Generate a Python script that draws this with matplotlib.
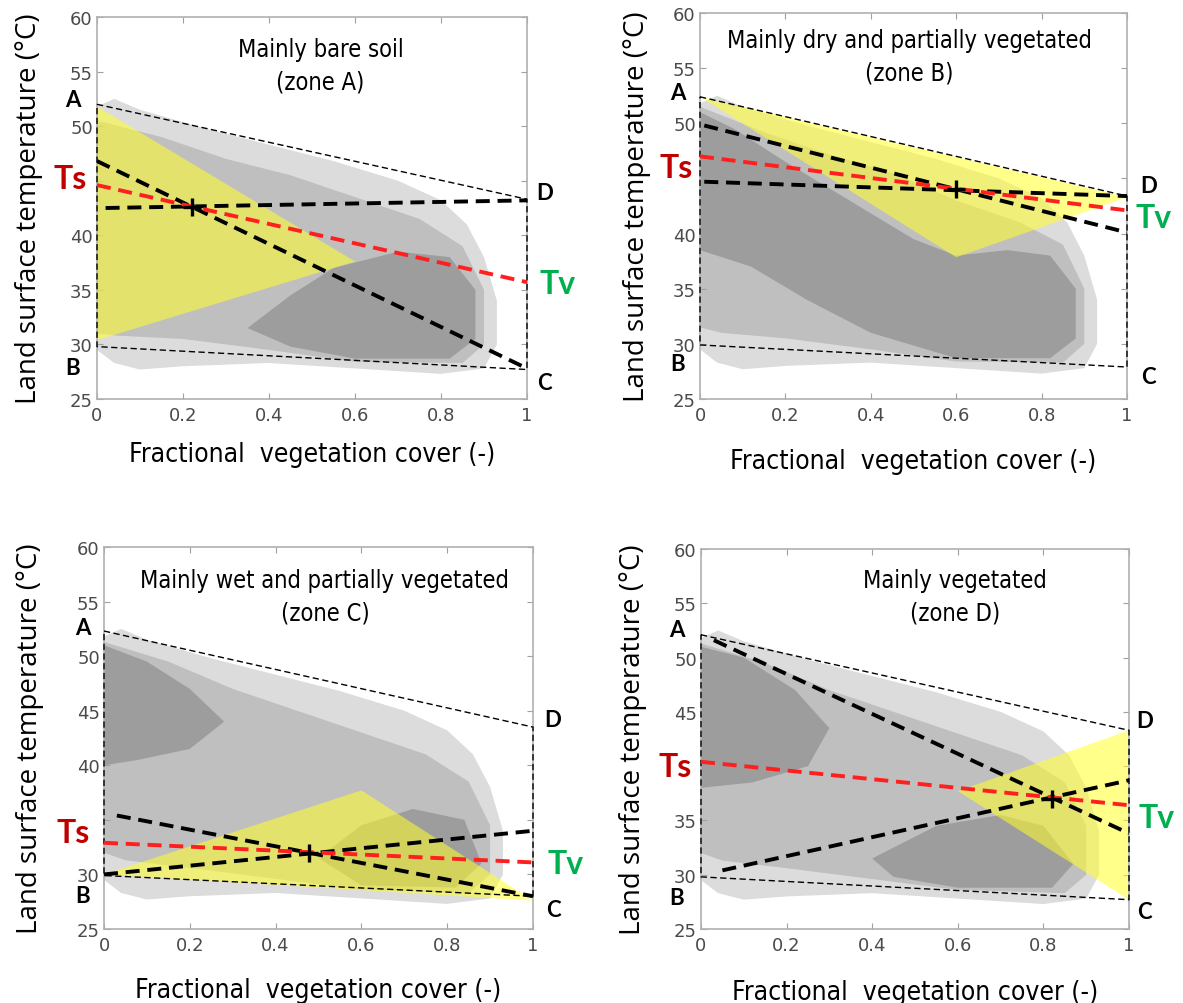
# Ts-Fv triangle / trapezoid zones (A-D)
import matplotlib.pyplot as plt
from matplotlib.patches import Polygon

# trapezoid corners (Fv, LST) per panel: A, D, C, B
trap = [
    [(0, 52.0), (1, 43.3), (1, 27.7), (0, 29.8)],
    [(0, 52.4), (1, 43.4), (1, 27.9), (0, 29.9)],
    [(0, 52.3), (1, 43.5), (1, 28.0), (0, 29.9)],
    [(0, 52.1), (1, 43.3), (1, 27.7), (0, 29.8)],
]
# yellow zone triangles
zone_tri = [
    [(0, 51.8), (0.6, 37.6), (0, 30.4)],
    [(0, 52.4), (0.6, 37.85), (1, 43.3)],
    [(0, 30.0), (0.6, 37.7), (1, 27.6)],
    [(1, 43.3), (0.6, 37.7), (1, 27.7)],
]
# black dashed lines: ((x0, y0), (x1, y1))
dash1 = [
    [(0.0, 46.8), (1, 27.8)],
    [(0.01, 49.8), (1, 40.1)],
    [(0.03, 35.4), (1, 28.0)],
    [(0.03, 51.6), (1, 33.8)],
]
dash2 = [
    [(0.02, 42.5), (1, 43.2)],
    [(0.01, 44.7), (1, 43.4)],
    [(0.0, 30.0), (1, 34.0)],
    [(0.05, 30.4), (1, 38.7)],
]
# red dashed line Ts -> Tv
red_line = [
    [(0, 44.6), (1, 35.7)],
    [(0, 47.0), (1, 42.1)],
    [(0, 32.9), (1, 31.1)],
    [(0, 40.4), (1, 36.4)],
]
cross = [(0.22, 42.6), (0.6, 44.0), (0.477, 32.0), (0.82, 37.0)]

# label positions (x in Fv units, y in degC)
ts_pos = [(-0.063, 45.2), (-0.056, 46.0), (-0.073, 33.85), (-0.06, 40.0)]
tv_pos = [(1.07, 35.6), (1.062, 41.5), (1.076, 31.0), (1.065, 35.3)]
a_pos = [(-0.056, 52.4), (-0.052, 52.75), (-0.05, 52.6), (-0.056, 52.6)]
b_pos = [(-0.056, 27.9), (-0.052, 28.2), (-0.05, 28.05), (-0.056, 27.9)]
d_pos = [(1.04, 43.9), (1.05, 44.35), (1.047, 44.2), (1.037, 44.2)]
c_pos = [(1.04, 26.5), (1.05, 27.0), (1.047, 26.8), (1.037, 26.6)]

titles = ['Mainly bare soil\n(zone A)',
          'Mainly dry and partially vegetated\n(zone B)',
          'Mainly wet and partially vegetated\n(zone C)',
          'Mainly vegetated\n(zone D)']
title_x = [0.52, 0.49, 0.515, 0.593]
title_y = [55.55, 56.1, 55.5, 55.65]

y_ticks = [25, 30, 35, 40, 45, 50, 55, 60]
x_ticks = [0, 0.2, 0.4, 0.6, 0.8, 1]
x_ticklabels = ['0', '0.2', '0.4', '0.6', '0.8', '1']
hidden_ytick = [45, 45, 35, 40]   # tick label covered by the "Ts" tag

# gray point cloud read as envelopes (sparse outer, medium, dense cores)
cloud_outer = [(0.0, 51.8), (0.04, 52.5), (0.1, 51.5), (0.25, 49.8), (0.4, 48.3),
               (0.55, 46.8), (0.7, 45.0), (0.8, 43.2), (0.86, 41.0), (0.9, 38.0),
               (0.93, 34.0), (0.93, 30.0), (0.9, 27.8), (0.8, 27.3), (0.6, 27.8),
               (0.4, 28.3), (0.2, 28.0), (0.1, 27.7), (0.04, 28.3), (0.0, 29.5)]
cloud_mid = [
    [(0.0, 50.5), (0.15, 49.0), (0.3, 47.0), (0.45, 45.5), (0.6, 43.5), (0.75, 41.5),
     (0.85, 39.0), (0.9, 35.0), (0.9, 30.0), (0.85, 28.3), (0.6, 28.4), (0.4, 29.5),
     (0.2, 30.5), (0.05, 30.8), (0.0, 31.0)],
    [(0.0, 51.5), (0.15, 49.2), (0.3, 47.2), (0.45, 45.5), (0.6, 43.0), (0.75, 41.0),
     (0.85, 39.0), (0.9, 35.0), (0.9, 30.0), (0.85, 28.3), (0.6, 28.4), (0.4, 29.5),
     (0.2, 30.5), (0.05, 31.0), (0.0, 31.5)],
    [(0.0, 51.3), (0.15, 49.5), (0.3, 47.0), (0.45, 45.0), (0.6, 43.0), (0.75, 41.0),
     (0.85, 38.5), (0.9, 34.5), (0.9, 30.0), (0.85, 28.3), (0.6, 28.6), (0.4, 29.6),
     (0.2, 30.6), (0.05, 31.3), (0.0, 32.0)],
    [(0.0, 51.3), (0.15, 49.5), (0.3, 47.0), (0.45, 45.0), (0.6, 43.0), (0.75, 41.0),
     (0.85, 38.5), (0.9, 34.5), (0.9, 30.0), (0.85, 28.3), (0.6, 28.6), (0.4, 29.6),
     (0.2, 30.6), (0.05, 31.3), (0.0, 32.0)],
]
cloud_core = [
    [(0.35, 31.5), (0.45, 34.5), (0.55, 37.0), (0.7, 38.5), (0.82, 38.0), (0.88, 35.0),
     (0.88, 30.5), (0.82, 28.7), (0.6, 28.7), (0.45, 29.8)],
    [(0.0, 51.0), (0.08, 49.5), (0.2, 46.5), (0.35, 43.0), (0.5, 39.5), (0.6, 38.0),
     (0.72, 38.5), (0.82, 38.0), (0.88, 35.0), (0.88, 30.5), (0.82, 28.7), (0.6, 28.7),
     (0.4, 31.0), (0.25, 34.0), (0.12, 37.0), (0.0, 38.5)],
    [(0.0, 51.0), (0.1, 49.5), (0.2, 47.0), (0.28, 44.0), (0.2, 41.5), (0.08, 40.5),
     (0.0, 40.0)],
    [(0.0, 51.0), (0.1, 50.0), (0.22, 47.0), (0.3, 43.5), (0.25, 40.0), (0.12, 38.5),
     (0.0, 38.0)],
]
cloud_core2 = [
    None,
    None,
    [(0.5, 31.5), (0.6, 34.5), (0.72, 36.0), (0.84, 35.0), (0.88, 31.0), (0.82, 28.8),
     (0.6, 29.0)],
    [(0.4, 31.5), (0.55, 34.5), (0.7, 35.5), (0.8, 34.5), (0.87, 31.0), (0.82, 28.8),
     (0.6, 28.8), (0.45, 29.8)],
]

# axes placement in pixels (left, right, top, bottom) of a 1183x1004 figure
W, H = 1183, 1004
boxes = [(97, 527, 18, 400), (700, 1127, 14, 400),
         (104, 533, 548, 930), (701, 1129, 550, 930)]
xlab_pad = [12.5, 17, 16.5, 18]
ylab_pad = [19, 16, 24, 19]

narrow = dict(family='DejaVu Sans', fontstretch='condensed')
bold = dict(fontweight='bold', family=['Lato', 'DejaVu Sans'], clip_on=False,
            ha='center', va='center')

fig = plt.figure(figsize=(W / 100, H / 100), dpi=100)

for i in range(4):
    l, r, t, b = boxes[i]
    ax = fig.add_axes([l / W, 1 - b / H, (r - l) / W, (b - t) / H])
    ax.set_xlim(0, 1)
    ax.set_ylim(25, 60)

    # point cloud
    ax.add_patch(Polygon(cloud_outer, closed=True, fc='#dcdcdc', ec='none', zorder=1))
    ax.add_patch(Polygon(cloud_mid[i], closed=True, fc='#bfbfbf', ec='none', zorder=1))
    ax.add_patch(Polygon(cloud_core[i], closed=True, fc='#9d9d9d', ec='none', zorder=1))
    if cloud_core2[i] is not None:
        ax.add_patch(Polygon(cloud_core2[i], closed=True, fc='#9d9d9d', ec='none', zorder=1))

    # yellow zone
    ax.add_patch(Polygon(zone_tri[i], closed=True, fc='#ffff2a', ec='none', alpha=0.55, zorder=2))

    # trapezoid (thin dashed)
    tx = [p[0] for p in trap[i]] + [trap[i][0][0]]
    ty = [p[1] for p in trap[i]] + [trap[i][0][1]]
    ax.plot(tx, ty, color='black', lw=1.0, ls=(0, (4.5, 2.5)), zorder=3, clip_on=False)

    # thick dashed lines
    for ln in (dash1[i], dash2[i]):
        ax.plot([ln[0][0], ln[1][0]], [ln[0][1], ln[1][1]], color='black',
                lw=2.8, ls=(0, (3.6, 2.0)), zorder=4)
    ax.plot([red_line[i][0][0], red_line[i][1][0]], [red_line[i][0][1], red_line[i][1][1]],
            color='#ff1f1f', lw=2.8, ls=(0, (3.6, 2.0)), zorder=5)
    ax.plot(*cross[i], marker='+', ms=13, mew=2.4, color='black', zorder=6)

    # corner letters and Ts / Tv
    ax.text(*a_pos[i], 'A', fontsize=16, **bold)
    ax.text(*b_pos[i], 'B', fontsize=16, **bold)
    ax.text(*d_pos[i], 'D', fontsize=16, **bold)
    ax.text(*c_pos[i], 'C', fontsize=16, **bold)
    ax.text(*ts_pos[i], 'Ts', fontsize=23, color='#c00000', zorder=8, **bold)
    ax.text(*tv_pos[i], 'Tv', fontsize=23, color='#00b050', zorder=8, **bold)

    ax.text(title_x[i], title_y[i], titles[i], ha='center', va='center', fontsize=17,
            linespacing=1.45, zorder=7, **narrow)

    ax.set_xticks(x_ticks)
    ax.set_xticklabels(x_ticklabels)
    ax.set_yticks(y_ticks)
    ax.set_yticklabels(['' if v == hidden_ytick[i] else str(v) for v in y_ticks])
    ax.tick_params(direction='in', length=4, color='#a0a0a0', labelcolor='#4a4a4a',
                   labelsize=13, top=True, right=True)
    ax.tick_params(axis='x', pad=5)
    ax.tick_params(axis='y', pad=3)
    for s in ax.spines.values():
        s.set_color('#b0b0b0')
        s.set_linewidth(1.2)
    ax.set_xlabel('Fractional  vegetation cover (-)', fontsize=19,
                  labelpad=xlab_pad[i], **narrow)
    ax.set_ylabel('Land surface temperature (°C)', fontsize=20,
                  family=['Open Sans', 'DejaVu Sans'], labelpad=ylab_pad[i])

fig.savefig('out.png', dpi=100)
